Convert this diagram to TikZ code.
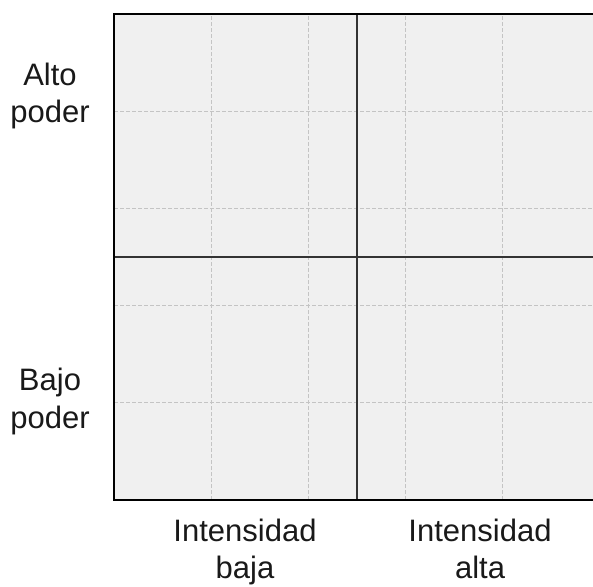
\documentclass[tikz,border=0pt]{standalone}
\usepackage{fontspec}
\setmainfont{Liberation Sans}
\definecolor{boxfill}{HTML}{F0F0F0}
\definecolor{gridgray}{HTML}{C4C4C4}
\begin{document}
\begin{tikzpicture}[x=1pt,y=1pt,
  lbl/.style={font=\fontsize{31}{37}\selectfont, align=center, inner sep=0pt, text=black!90},
  gridline/.style={draw=gridgray, line width=0.9pt, dash pattern=on 4pt off 2pt},
  axisline/.style={draw=black!80, line width=1.4pt},
  frameline/.style={draw=black, line width=2pt}]
\useasboundingbox (0,0) rectangle (593,586);
\clip (0,0) rectangle (593,586);
% square: x 114..600, y(px) 14..500 -> y 572..86
\coordinate (sw) at (114,86);
\coordinate (ne) at (600,572);
\fill[boxfill] (sw) rectangle (ne);
\foreach \i in {1,2,3,4} {
  \draw[gridline] (114+97.2*\i,86) -- (114+97.2*\i,572);
  \draw[gridline] (114,86+97.2*\i) -- (600,86+97.2*\i);
}
\coordinate (vt) at (357,572);
\coordinate (vb) at (357,86);
\coordinate (hl) at (114,329);
\coordinate (hr) at (600,329);
\draw[axisline] (vt) -- (vb);
\draw[axisline] (hl) -- (hr);
\draw[frameline] (sw) rectangle (ne);
\node[lbl, anchor=base] (alto) at (50,463) {Alto\\poder};
\node[lbl, anchor=base] (bajo) at (50,158) {Bajo\\poder};
\node[lbl, anchor=base] (ib) at (245,8) {Intensidad\\baja};
\node[lbl, anchor=base] (ia) at (480,8) {Intensidad\\alta};
\end{tikzpicture}
\end{document}
